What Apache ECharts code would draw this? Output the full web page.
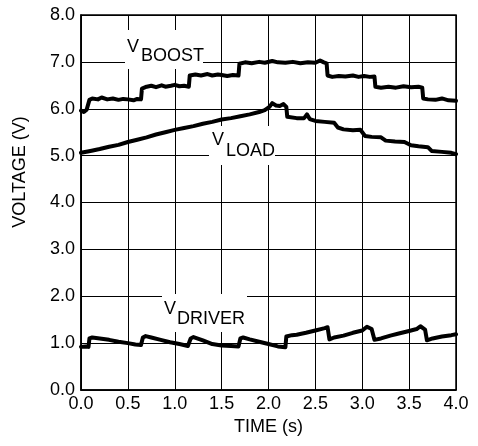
<!DOCTYPE html>
<html>
<head>
<meta charset="utf-8">
<script src="https://cdn.jsdelivr.net/npm/echarts@6/dist/echarts.min.js"></script>
<style>
html,body{margin:0;padding:0;background:#fff;}
#chart{width:478px;height:446px;}
</style>
</head>
<body>
<div id="chart"></div>
<script>
// Data (time in s, voltage in V)
var vBoost = [[0,5.96],[0.03,5.93],[0.06,5.98],[0.08,6.0],[0.09,6.19],[0.12,6.22],[0.18,6.2],[0.22,6.24],[0.28,6.2],[0.34,6.22],[0.4,6.19],[0.45,6.21],[0.5,6.2],[0.56,6.18],[0.6,6.21],[0.64,6.2],[0.65,6.43],[0.7,6.47],[0.75,6.49],[0.8,6.46],[0.86,6.5],[0.9,6.47],[0.96,6.49],[1.0,6.51],[1.05,6.48],[1.1,6.49],[1.15,6.47],[1.16,6.71],[1.22,6.73],[1.28,6.71],[1.35,6.74],[1.4,6.71],[1.46,6.73],[1.5,6.72],[1.56,6.7],[1.62,6.72],[1.68,6.71],[1.69,6.96],[1.75,6.99],[1.82,6.97],[1.9,7.0],[1.96,6.98],[2.04,7.02],[2.1,6.99],[2.18,6.98],[2.26,7.0],[2.34,6.97],[2.42,6.99],[2.5,6.98],[2.55,7.03],[2.59,6.99],[2.62,6.97],[2.63,6.71],[2.68,6.68],[2.75,6.7],[2.82,6.69],[2.9,6.71],[2.96,6.68],[3.02,6.7],[3.08,6.68],[3.13,6.69],[3.14,6.47],[3.2,6.45],[3.28,6.47],[3.36,6.45],[3.44,6.48],[3.52,6.46],[3.6,6.47],[3.64,6.45],[3.65,6.22],[3.7,6.2],[3.78,6.19],[3.85,6.22],[3.92,6.18],[4.0,6.17]];
var vLoad = [[0,5.06],[0.1,5.1],[0.2,5.14],[0.3,5.19],[0.4,5.23],[0.5,5.29],[0.6,5.34],[0.7,5.39],[0.8,5.45],[0.9,5.5],[1.0,5.55],[1.1,5.59],[1.2,5.63],[1.3,5.68],[1.4,5.72],[1.5,5.77],[1.6,5.8],[1.7,5.84],[1.8,5.88],[1.9,5.93],[1.96,5.97],[2.01,6.04],[2.04,6.12],[2.08,6.07],[2.12,6.06],[2.16,6.1],[2.19,6.04],[2.2,5.83],[2.3,5.8],[2.38,5.8],[2.41,5.88],[2.44,5.78],[2.5,5.74],[2.6,5.72],[2.7,5.7],[2.74,5.6],[2.8,5.56],[2.9,5.54],[2.98,5.55],[3.0,5.58],[3.03,5.42],[3.1,5.4],[3.2,5.39],[3.25,5.32],[3.35,5.3],[3.45,5.29],[3.52,5.22],[3.6,5.2],[3.7,5.18],[3.74,5.1],[3.85,5.08],[3.95,5.06],[4.0,5.03]];
var vDriver = [[0,0.92],[0.05,0.93],[0.08,0.92],[0.09,1.1],[0.12,1.12],[0.2,1.1],[0.3,1.07],[0.4,1.03],[0.5,1.0],[0.58,0.97],[0.64,0.96],[0.66,1.12],[0.69,1.15],[0.75,1.12],[0.85,1.07],[0.95,1.02],[1.05,0.98],[1.14,0.94],[1.16,0.93],[1.17,1.1],[1.2,1.13],[1.3,1.06],[1.4,0.98],[1.5,0.95],[1.6,0.94],[1.68,0.93],[1.7,1.1],[1.73,1.12],[1.8,1.08],[1.9,1.03],[2.0,0.98],[2.1,0.93],[2.18,0.91],[2.19,1.14],[2.25,1.17],[2.3,1.18],[2.4,1.22],[2.5,1.27],[2.6,1.32],[2.63,1.34],[2.65,1.08],[2.7,1.12],[2.8,1.16],[2.9,1.22],[3.0,1.27],[3.05,1.35],[3.1,1.3],[3.13,1.07],[3.2,1.1],[3.3,1.16],[3.4,1.21],[3.5,1.26],[3.58,1.3],[3.62,1.36],[3.67,1.29],[3.69,1.06],[3.75,1.1],[3.85,1.14],[3.95,1.17],[4.0,1.19]];
var xTicks = ['0.0','0.5','1.0','1.5','2.0','2.5','3.0','3.5','4.0'];
var yTicks = ['0.0','1.0','2.0','3.0','4.0','5.0','6.0','7.0','8.0'];

var FONT = 'Liberation Sans, Arial, Helvetica, sans-serif';
var chart = echarts.init(document.getElementById('chart'), null, {renderer:'canvas'});

function lineSeries(name, data){
  return {
    name: name, type: 'line', data: data, showSymbol: false, symbol: 'none',
    lineStyle: {color:'#000', width:4, join:'round', cap:'round'},
    z: 5, animation: false
  };
}
function labelBox(x, y, w, h){
  return {type:'rect', shape:{x:x, y:y, width:w, height:h}, style:{fill:'#fff'}, z:1};
}
function txt(x, y, s){
  return {type:'text', x:x, y:y, style:{text:s, fill:'#000', font:'18px ' + FONT, verticalAlign:'middle', align:'left'}, z:2};
}

chart.setOption({
  backgroundColor: '#fff',
  animation: false,
  grid: {left:81, right:22, top:15, bottom:56, show:true, borderColor:'#000', borderWidth:1.5, backgroundColor:'transparent'},
  xAxis: {
    type:'value', min:0, max:4, interval:0.5,
    name:'TIME (s)', nameLocation:'middle', nameGap:20,
    nameTextStyle:{color:'#000', fontSize:18, fontFamily:FONT, verticalAlign:'top'},
    axisLine:{show:true, lineStyle:{color:'#000', width:1.5}},
    axisTick:{show:false},
    axisLabel:{color:'#000', fontSize:18, fontFamily:FONT, margin:5,
      formatter:function(v){ return xTicks[Math.round(v/0.5)]; }},
    splitLine:{show:true, lineStyle:{color:'#000', width:1}}
  },
  yAxis: {
    type:'value', min:0, max:8, interval:1,
    axisLine:{show:true, lineStyle:{color:'#000', width:1.5}},
    axisTick:{show:false},
    axisLabel:{color:'#000', fontSize:18, fontFamily:FONT, margin:6,
      formatter:function(v){ return yTicks[Math.round(v)]; }},
    splitLine:{show:true, lineStyle:{color:'#000', width:1}}
  },
  graphic: [
    {type:'text', x:20.5, y:172, rotation:Math.PI/2,
      style:{text:'VOLTAGE (V)', fill:'#000', font:'18px ' + FONT, align:'center', verticalAlign:'middle'}},
    labelBox(125, 30, 78, 39),
    labelBox(209, 126, 66, 39),
    labelBox(162, 294, 85, 38),
    txt(127, 47, 'V'), txt(141, 56, 'BOOST'),
    txt(212, 140.5, 'V'), txt(226, 151, 'LOAD'),
    txt(164, 309, 'V'), txt(177, 319.5, 'DRIVER')
  ],
  series: [
    lineSeries('VBOOST', vBoost),
    lineSeries('VLOAD', vLoad),
    lineSeries('VDRIVER', vDriver)
  ]
});
</script>
</body>
</html>
